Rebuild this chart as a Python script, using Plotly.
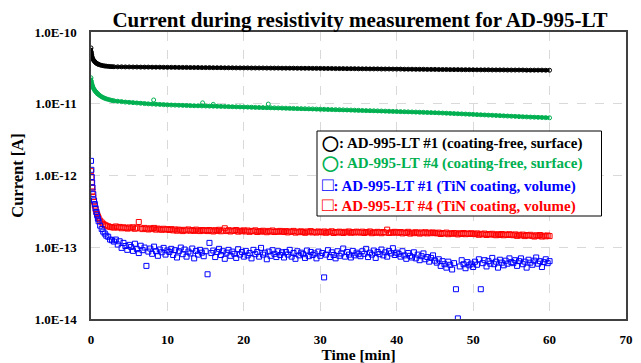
import plotly.graph_objects as go

# ---- data (time in minutes, current in pA) ----
time_min = [0, 0.05, 0.1, 0.15, 0.2, 0.3, 0.4, 0.5, 0.6, 0.7, 0.8, 0.9, 1.0, 1.2, 1.4, 1.6, 1.8, 2.0, 2.25, 2.5, 2.75, 3.0,
            3.5, 4.0, 4.5, 5.0, 5.5, 6.0, 6.5, 7.0, 7.5, 8.0, 8.5, 9.0, 9.5, 10.0,
            10.5, 11.0, 11.5, 12.0, 12.5, 13.0, 13.5, 14.0, 14.5, 15.0,
            15.5, 16.0, 16.5, 17.0, 17.5, 18.0, 18.5, 19.0, 19.5, 20.0,
            20.5, 21.0, 21.5, 22.0, 22.5, 23.0, 23.5, 24.0, 24.5, 25.0,
            25.5, 26.0, 26.5, 27.0, 27.5, 28.0, 28.5, 29.0, 29.5, 30.0,
            30.5, 31.0, 31.5, 32.0, 32.5, 33.0, 33.5, 34.0, 34.5, 35.0,
            35.5, 36.0, 36.5, 37.0, 37.5, 38.0, 38.5, 39.0, 39.5, 40.0,
            40.5, 41.0, 41.5, 42.0, 42.5, 43.0, 43.5, 44.0, 44.5, 45.0,
            45.5, 46.0, 46.5, 47.0, 47.5, 48.0, 48.5, 49.0, 49.5, 50.0,
            50.5, 51.0, 51.5, 52.0, 52.5, 53.0, 53.5, 54.0, 54.5, 55.0,
            55.5, 56.0, 56.5, 57.0, 57.5, 58.0, 58.5, 59.0, 59.5, 60.0]

lt1_surface_pA = [60, 52, 48, 45, 43, 41, 39.5, 38.5, 37.5, 36.8, 36.2, 35.7, 35.3, 34.7, 34.2, 33.9, 33.6, 33.4, 33.2, 33.0, 32.9, 32.8,
                  32.7, 32.7, 32.6, 32.6, 32.5, 32.5, 32.4, 32.4, 32.4, 32.3, 32.3, 32.3, 32.2, 32.2,
                  32.2, 32.2, 32.1, 32.1, 32.1, 32.0, 32.0, 32.0, 31.9, 31.9,
                  31.9, 31.8, 31.8, 31.8, 31.7, 31.7, 31.7, 31.6, 31.6, 31.6,
                  31.6, 31.5, 31.5, 31.5, 31.5, 31.4, 31.4, 31.4, 31.4, 31.3,
                  31.3, 31.3, 31.3, 31.2, 31.2, 31.2, 31.2, 31.1, 31.1, 31.1,
                  31.0, 31.0, 31.0, 30.9, 30.9, 30.9, 30.8, 30.8, 30.8, 30.7,
                  30.7, 30.7, 30.6, 30.6, 30.6, 30.5, 30.5, 30.5, 30.4, 30.4,
                  30.4, 30.3, 30.3, 30.3, 30.2, 30.2, 30.2, 30.1, 30.1, 30.1,
                  30.0, 30.0, 30.0, 29.9, 29.9, 29.9, 29.8, 29.8, 29.8, 29.8,
                  29.7, 29.7, 29.7, 29.7, 29.6, 29.6, 29.6, 29.6, 29.5, 29.5,
                  29.5, 29.5, 29.5, 29.4, 29.4, 29.4, 29.4, 29.4, 29.3, 29.3]

lt4_surface_pA = [23, 20.5, 19, 18.2, 17.6, 16.6, 15.9, 15.3, 14.8, 14.4, 14.0, 13.7, 13.4, 12.9, 12.5, 12.2, 11.9, 11.7, 11.5, 11.3, 11.1, 11.0,
                  10.85, 10.7, 10.55, 10.45, 10.35, 10.25, 10.15, 10.05, 9.97, 9.9, 9.83, 9.76, 9.7, 9.64,
                  9.6, 9.56, 9.52, 9.48, 9.45, 9.42, 9.39, 9.36, 9.33, 9.3,
                  9.27, 9.24, 9.21, 9.18, 9.15, 9.12, 9.09, 9.06, 9.03, 9.0,
                  8.97, 8.94, 8.91, 8.88, 8.85, 8.82, 8.79, 8.76, 8.73, 8.7,
                  8.67, 8.64, 8.61, 8.58, 8.55, 8.52, 8.49, 8.46, 8.43, 8.4,
                  8.37, 8.34, 8.31, 8.28, 8.25, 8.22, 8.19, 8.16, 8.13, 8.1,
                  8.07, 8.04, 8.01, 7.98, 7.95, 7.92, 7.89, 7.86, 7.83, 7.8,
                  7.77, 7.74, 7.71, 7.68, 7.65, 7.62, 7.59, 7.56, 7.53, 7.5,
                  7.46, 7.42, 7.38, 7.34, 7.3, 7.26, 7.22, 7.18, 7.14, 7.1,
                  7.06, 7.02, 6.98, 6.94, 6.9, 6.86, 6.82, 6.78, 6.74, 6.7,
                  6.66, 6.62, 6.58, 6.55, 6.52, 6.49, 6.46, 6.43, 6.4, 6.37]

# a few stray readings of the green series sitting above the band
lt4_surface_stray_t = [8.2, 14.6, 23.2, 16.0]
lt4_surface_stray_pA = [11.3, 10.3, 9.9, 9.8]

# TiN coated samples, finer time grid
time_fine_min = [0, 0.05, 0.1, 0.15, 0.2, 0.3, 0.4, 0.5, 0.6, 0.7, 0.8, 0.9, 1.0, 1.2, 1.4, 1.6, 1.8, 2.0, 2.25, 2.5, 2.75, 3.0,
                 3.25, 3.5, 3.75, 4.0, 4.25, 4.5, 4.75, 5.0,
                 5.25, 5.5, 5.75, 6.0, 6.25, 6.5, 6.75, 7.0, 7.25, 7.5, 7.75, 8.0, 8.25, 8.5, 8.75, 9.0, 9.25, 9.5, 9.75, 10.0,
                 10.25, 10.5, 10.75, 11.0, 11.25, 11.5, 11.75, 12.0, 12.25, 12.5, 12.75, 13.0, 13.25, 13.5, 13.75, 14.0, 14.25, 14.5, 14.75, 15.0,
                 15.25, 15.5, 15.75, 16.0, 16.25, 16.5, 16.75, 17.0, 17.25, 17.5, 17.75, 18.0, 18.25, 18.5, 18.75, 19.0, 19.25, 19.5, 19.75, 20.0,
                 20.25, 20.5, 20.75, 21.0, 21.25, 21.5, 21.75, 22.0, 22.25, 22.5, 22.75, 23.0, 23.25, 23.5, 23.75, 24.0, 24.25, 24.5, 24.75, 25.0,
                 25.25, 25.5, 25.75, 26.0, 26.25, 26.5, 26.75, 27.0, 27.25, 27.5, 27.75, 28.0, 28.25, 28.5, 28.75, 29.0, 29.25, 29.5, 29.75, 30.0,
                 30.25, 30.5, 30.75, 31.0, 31.25, 31.5, 31.75, 32.0, 32.25, 32.5, 32.75, 33.0, 33.25, 33.5, 33.75, 34.0, 34.25, 34.5, 34.75, 35.0,
                 35.25, 35.5, 35.75, 36.0, 36.25, 36.5, 36.75, 37.0, 37.25, 37.5, 37.75, 38.0, 38.25, 38.5, 38.75, 39.0, 39.25, 39.5, 39.75, 40.0,
                 40.25, 40.5, 40.75, 41.0, 41.25, 41.5, 41.75, 42.0, 42.25, 42.5, 42.75, 43.0, 43.25, 43.5, 43.75, 44.0, 44.25, 44.5, 44.75, 45.0,
                 45.25, 45.5, 45.75, 46.0, 46.25, 46.5, 46.75, 47.0, 47.25, 47.5, 47.75, 48.0, 48.25, 48.5, 48.75, 49.0, 49.25, 49.5, 49.75, 50.0,
                 50.25, 50.5, 50.75, 51.0, 51.25, 51.5, 51.75, 52.0, 52.25, 52.5, 52.75, 53.0, 53.25, 53.5, 53.75, 54.0, 54.25, 54.5, 54.75, 55.0,
                 55.25, 55.5, 55.75, 56.0, 56.25, 56.5, 56.75, 57.0, 57.25, 57.5, 57.75, 58.0, 58.25, 58.5, 58.75, 59.0, 59.25, 59.5, 59.75, 60.0]

lt1_tin_pA = [1.6, 1.2, 0.95, 0.8, 0.68, 0.55, 0.45, 0.40, 0.35, 0.31, 0.28, 0.25, 0.23, 0.2, 0.18, 0.165, 0.155, 0.145, 0.14, 0.128, 0.125, 0.12,
              0.128, 0.109, 0.121, 0.098, 0.115, 0.104, 0.092, 0.108,
              0.101, 0.089, 0.112, 0.094, 0.083, 0.105, 0.091, 0.099, 0.055, 0.087, 0.096, 0.081, 0.102, 0.088, 0.076, 0.093, 0.085, 0.098, 0.079, 0.090,
              0.086, 0.095, 0.078, 0.091, 0.072, 0.088, 0.099, 0.080, 0.093, 0.074, 0.087, 0.082, 0.096, 0.070, 0.089, 0.079, 0.092, 0.084, 0.075, 0.088,
              0.042, 0.115, 0.083, 0.090, 0.073, 0.086, 0.095, 0.078, 0.088, 0.069, 0.084, 0.092, 0.076, 0.087, 0.081, 0.071, 0.094, 0.079, 0.086, 0.074,
              0.089, 0.077, 0.083, 0.070, 0.092, 0.080, 0.086, 0.074, 0.098, 0.079, 0.084, 0.068, 0.087, 0.076, 0.091, 0.081, 0.073, 0.088, 0.078, 0.085,
              0.072, 0.086, 0.079, 0.092, 0.074, 0.083, 0.069, 0.088, 0.077, 0.084, 0.080, 0.071, 0.090, 0.075, 0.086, 0.078, 0.082, 0.070, 0.087, 0.076,
              0.083, 0.038, 0.079, 0.091, 0.073, 0.085, 0.078, 0.070, 0.088, 0.076, 0.082, 0.096, 0.074, 0.086, 0.079, 0.072, 0.089, 0.077, 0.084, 0.080,
              0.075, 0.088, 0.081, 0.095, 0.073, 0.084, 0.079, 0.090, 0.071, 0.086, 0.080, 0.093, 0.077, 0.085, 0.074, 0.089, 0.082, 0.097, 0.078, 0.084,
              0.081, 0.074, 0.088, 0.077, 0.069, 0.083, 0.076, 0.072, 0.085, 0.070, 0.079, 0.066, 0.075, 0.082, 0.068, 0.073, 0.063, 0.071, 0.077, 0.065,
              0.061, 0.068, 0.055, 0.064, 0.058, 0.052, 0.063, 0.057, 0.049, 0.060, 0.026, 0.0102, 0.054, 0.066, 0.058, 0.051, 0.062, 0.056, 0.059, 0.053,
              0.063, 0.057, 0.068, 0.026, 0.060, 0.066, 0.054, 0.064, 0.059, 0.071, 0.058, 0.063, 0.052, 0.067, 0.061, 0.056, 0.065, 0.059, 0.070, 0.062,
              0.060, 0.066, 0.055, 0.064, 0.070, 0.058, 0.063, 0.052, 0.067, 0.061, 0.057, 0.065, 0.072, 0.059, 0.064, 0.053, 0.062, 0.068, 0.060, 0.064]

lt4_tin_pA = [1.15, 0.95, 0.8, 0.68, 0.6, 0.5, 0.43, 0.38, 0.34, 0.31, 0.29, 0.27, 0.255, 0.235, 0.222, 0.212, 0.205, 0.2, 0.196, 0.192, 0.19, 0.188,
              0.195, 0.188, 0.192, 0.184, 0.190, 0.186, 0.182, 0.189,
              0.184, 0.190, 0.181, 0.187, 0.225, 0.183, 0.179, 0.186, 0.181, 0.177, 0.184, 0.179, 0.186, 0.176, 0.182, 0.178, 0.175, 0.181, 0.176, 0.179,
              0.174, 0.179, 0.172, 0.177, 0.170, 0.176, 0.173, 0.168, 0.175, 0.171, 0.177, 0.170, 0.174, 0.169, 0.176, 0.171, 0.168, 0.174, 0.170, 0.173,
              0.168, 0.174, 0.170, 0.166, 0.173, 0.169, 0.175, 0.167, 0.171, 0.184, 0.168, 0.173, 0.166, 0.171, 0.169, 0.174, 0.165, 0.170, 0.167, 0.172,
              0.166, 0.171, 0.164, 0.169, 0.167, 0.172, 0.163, 0.168, 0.165, 0.170, 0.166, 0.162, 0.169, 0.165, 0.171, 0.163, 0.167, 0.164, 0.169, 0.166,
              0.163, 0.168, 0.161, 0.166, 0.164, 0.169, 0.160, 0.165, 0.162, 0.167, 0.163, 0.159, 0.166, 0.162, 0.168, 0.161, 0.164, 0.160, 0.166, 0.163,
              0.161, 0.166, 0.159, 0.164, 0.162, 0.167, 0.158, 0.163, 0.160, 0.165, 0.162, 0.158, 0.164, 0.161, 0.166, 0.159, 0.163, 0.160, 0.165, 0.162,
              0.160, 0.165, 0.158, 0.163, 0.161, 0.166, 0.157, 0.162, 0.159, 0.164, 0.161, 0.157, 0.163, 0.160, 0.176, 0.158, 0.162, 0.159, 0.164, 0.161,
              0.159, 0.163, 0.156, 0.161, 0.158, 0.164, 0.155, 0.160, 0.157, 0.162, 0.159, 0.155, 0.161, 0.157, 0.162, 0.156, 0.160, 0.157, 0.161, 0.158,
              0.156, 0.160, 0.153, 0.158, 0.155, 0.160, 0.152, 0.157, 0.154, 0.158, 0.155, 0.151, 0.157, 0.153, 0.158, 0.152, 0.156, 0.153, 0.157, 0.154,
              0.152, 0.156, 0.149, 0.154, 0.151, 0.155, 0.148, 0.153, 0.150, 0.154, 0.150, 0.147, 0.152, 0.148, 0.153, 0.147, 0.151, 0.148, 0.152, 0.149,
              0.147, 0.151, 0.144, 0.149, 0.146, 0.150, 0.143, 0.148, 0.145, 0.149, 0.144, 0.141, 0.147, 0.143, 0.148, 0.141, 0.145, 0.142, 0.146, 0.143]

series_names = ["AD-995-LT #1 (coating-free, surface)", "AD-995-LT #4 (coating-free, surface)",
                "AD-995-LT #1 (TiN coating, volume)", "AD-995-LT #4 (TiN coating, volume)"]
series_colors = ["#000000", "#00B050", "#0000FF", "#FF0000"]
legend_glyphs = ["◯", "◯", "<span style=\"font-size:19px\">□</span>", "<span style=\"font-size:19px\">□</span>"]

y_tickvals = [1e-14, 1e-13, 1e-12, 1e-11, 1e-10]
y_ticktext = ["1.0E-14", "1.0E-13", "1.0E-12", "1.0E-11", "1.0E-10"]
x_tickvals = [0, 10, 20, 30, 40, 50, 60, 70]

SERIF = "Liberation Serif, Times New Roman, serif"
to_A = 1e-12

# the page body adds an 8px offset; figure is sized so the plot lands where the reference has it
OFF = 8
FIG_W, FIG_H = 641 - OFF, 363 - OFF
ML, MT, MR, MB = 91 - OFF, 32 - OFF, 15, 44

fig = go.Figure()
# TiN coated (squares), drawn first
for vals, col, name in [(lt4_tin_pA, series_colors[3], series_names[3]),
                        (lt1_tin_pA, series_colors[2], series_names[2])]:
    fig.add_trace(go.Scatter(
        x=time_fine_min, y=[v * to_A for v in vals], mode="markers", name=name, showlegend=False,
        marker=dict(symbol="square-open", size=5, color=col, line=dict(width=1, color=col))))

# coating-free (circles): dense readings form a thick band
fig.add_trace(go.Scatter(
    x=lt4_surface_stray_t, y=[v * to_A for v in lt4_surface_stray_pA], mode="markers",
    showlegend=False, marker=dict(symbol="circle-open", size=4, color=series_colors[1],
                                  line=dict(width=1, color=series_colors[1]))))
for vals, col, name in [(lt4_surface_pA, series_colors[1], series_names[1]),
                        (lt1_surface_pA, series_colors[0], series_names[0])]:
    fig.add_trace(go.Scatter(
        x=time_min, y=[v * to_A for v in vals], mode="lines+markers", name=name, showlegend=False,
        line=dict(color=col, width=3.5),
        marker=dict(symbol="circle-open", size=4, color=col, line=dict(width=1, color=col))))

fig.update_layout(
    width=FIG_W, height=FIG_H,
    margin=dict(l=ML, r=MR, t=MT, b=MB, autoexpand=False),
    paper_bgcolor="white", plot_bgcolor="white",
    title=dict(text="Current during resistivity measurement for AD-995-LT", automargin=False,
               x=(360 - OFF) / FIG_W, xanchor="center", y=1 - (19.5 - OFF) / FIG_H, yanchor="middle",
               font=dict(family=SERIF, size=21, color="black", weight="bold")),
    xaxis=dict(range=[0, 70], tickvals=x_tickvals, showgrid=True, gridcolor="#d9d9d9",
               griddash="dash", gridwidth=1, zeroline=False, showline=True, automargin=False,
               linecolor="#404040", linewidth=1.5, mirror=True, ticks="",
               ticklabelstandoff=8,
               tickfont=dict(family=SERIF, size=13, color="black", weight="bold"),
               title=dict(text="Time [min]", standoff=4,
                          font=dict(family=SERIF, size=15.5, color="black", weight="bold"))),
    yaxis=dict(type="log", range=[-14, -10], tickvals=y_tickvals, ticktext=y_ticktext,
               showgrid=True, gridcolor="#d9d9d9", griddash="dash", gridwidth=1, automargin=False,
               zeroline=False, showline=True, linecolor="#404040", linewidth=1.5,
               mirror=True, ticks="", ticklabelstandoff=10,
               tickfont=dict(family=SERIF, size=13, color="black", weight="bold"),
               title=dict(text="Current [A]", standoff=12,
                          font=dict(family=SERIF, size=16.5, color="black", weight="bold"))),
)

# legend box drawn as a framed text block (positions in plot-area fractions)
W, H = 535.0, 287.0
def px_x(p):
    return (p - 91) / W
def px_y(p):
    return (319 - p) / H

fig.add_shape(type="rect", xref="paper", yref="paper",
              x0=px_x(317), x1=px_x(601.5), y0=px_y(216), y1=px_y(131),
              line=dict(color="black", width=1), fillcolor="white", layer="above")
line_centers = [144, 164, 184, 204]
for i in range(4):
    fig.add_annotation(xref="paper", yref="paper", x=px_x(320), y=px_y(line_centers[i]),
                       xanchor="left", yanchor="middle", showarrow=False,
                       text=legend_glyphs[i] + ": " + series_names[i],
                       font=dict(family=SERIF, size=15, color=series_colors[i], weight="bold"))

fig.write_html("out.html")
